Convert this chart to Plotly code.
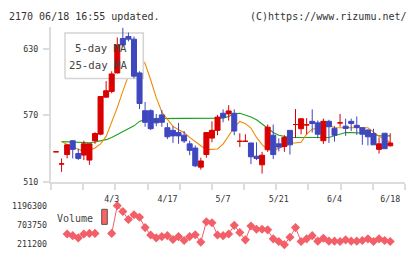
import plotly.graph_objects as go
import numpy as np

# ---------------- data ----------------
tick_labels = ["4/3", "4/17", "5/7", "5/21", "6/4", "6/18"]
tick_pos = [10, 20, 30, 40, 50, 60]

opens = [537, 526, 534.5, 547, 535.4, 534, 529.5, 547, 553, 586.5,
         591.7, 608.4, 639.6, 641.4, 639, 608.4, 574.2, 574.2, 566.7, 570.4,
         558.8, 556.4, 554.4, 552, 544.2, 540.4, 523.1, 534.5, 549.4, 556.4,
         571.9, 571.3, 571.9, 546.5, 546.5, 545, 533, 525.2, 538.9, 552,
         544.2, 541.8, 556.4, 561.7, 557.9, 561.4, 564.6, 563.2, 547, 564.6,
         558.2, 563.2, 560.2, 564.6, 561, 558.8, 556.7, 553.5, 539.2, 553.8,
         542.4]
highs = [537, 531, 543.3, 547.5, 539.8, 547, 544.2, 554.7, 587.5, 601,
         609.9, 640.5, 649.3, 645, 641.4, 610, 582.1, 575.4, 571.3, 574.8,
         563.2, 560.2, 563.2, 555.8, 547, 542.7, 531.6, 554.4, 564.6, 570.4,
         575.4, 579.2, 575.4, 553.8, 552.9, 545, 545.6, 536.9, 561.7, 561.7,
         549.2, 552, 556.4, 575.7, 567.5, 567.5, 575.4, 565.4, 567, 566,
         560.2, 571.3, 567, 567, 569, 558.8, 557.3, 557.9, 550, 553.8,
         553.8]
lows = [537, 518.8, 531, 531, 529.5, 529.5, 525.2, 544.2, 552, 586,
        590, 608, 631.8, 637, 603.5, 575.7, 559.7, 556.7, 560.2, 559.7,
        548.5, 545, 544.2, 545, 533.9, 523.1, 520.8, 531.6, 545.6, 552,
        563.7, 565.2, 552, 541.3, 546.2, 525.8, 529.5, 517.3, 536.9, 530.4,
        537.4, 536.9, 534.5, 549.4, 552.9, 552.9, 554.4, 549.2, 544.2, 545,
        546.2, 559.7, 551.4, 555.8, 552.3, 543.3, 542.7, 543.3, 535.4, 539.8,
        541.8]
closes = [537, 526, 543.3, 539.2, 531, 544.2, 544.2, 553.5, 587, 592.3,
          607.5, 633.8, 633.8, 639, 605.5, 580.7, 563.7, 557.9, 563.2, 563.7,
          550.6, 551.4, 551.4, 546.8, 538.3, 524.3, 528.7, 554.4, 556.4, 568.4,
          568.1, 574, 555.8, 546.5, 546.5, 532.5, 531, 533.9, 559.3, 534.5,
          541.3, 550, 543.3, 561.7, 566.9, 561.4, 562.6, 552.9, 564.6, 559.7,
          552, 563.2, 558.2, 562.6, 559, 552.9, 550.6, 543.3, 544.2, 539.8,
          545]

ma5 = [None, 546.2, 543.6, 541.8, 539.2, 537.4, 538.3, 540.4, 544.2, 550.9,
       564, 577, 592, 607, 620, 623, 617, 602, 586, 573,
       566, 560, 557, 554.5, 550, 546, 542.5, 539, 539, 539.5,
       544, 551, 559, 564.5, 562.5, 558.5, 550, 543.5, 539, 538.3,
       540, 542, 544.5, 545, 545.6, 553, 557.5, 558.5, 560, 560.5,
       559, 558.8, 558.8, 558.8, 558.8, 558.8, 558.8, 555, 551, 548.5,
       545.5]
ma25 = [None, 546.2, 546.0, 545.8, 545.6, 545.4, 545.2, 545.8, 547.0, 548.0,
        550, 552.5, 555, 557.5, 560.5, 564.5, 566.5, 567, 567, 567,
        567.5, 567.5, 567, 567, 567.5, 567, 567, 567, 567, 567,
        567.5, 569, 571.5, 571.9, 570.5, 568.5, 566, 562, 558.5, 554.5,
        552, 551, 550, 550, 550, 550, 550, 550, 550, 550,
        551.5, 553, 554.4, 554.4, 554.4, 554, 553.5, 552.5, 551.5, 551.4,
        551.4]

volume = [None, None, 473900, 432800, 375400, 473900, 490300, 490300, None, None,
          490300, 1196300, 1048500, 843300, 966400, 900800, 638100, 449300, 375400, 408200,
          432800, 334300, 408200, 309700, 408200, 457500, 268700, 785800, 761200, 449300,
          432800, 473900, 695500, 514900, 326100, 679100, 597000, 597000, 580600, 350800,
          285100, 203000, 391800, 638100, 285100, 350800, 432800, 293300, 367200, 293300,
          293300, 285100, 326100, 293300, 293300, 309700, 350800, 285100, 350800, 309700,
          285100]

price_ticks = [510, 570, 630]
vol_ticks = [211200, 703750, 1196300]

# ---------------- geometry / style ----------------
W, H = 420, 259
PX_L, PX_R = 51, 405
MAIN_TOP, MAIN_BOT = 24, 184
VOL_TOP, VOL_BOT = 208, 256
X0, X1 = -0.898, 62.657
Y0, Y1 = 510, 649.86
VSTEP = (vol_ticks[2] - vol_ticks[0]) / 40.0   # value per pixel
V0 = vol_ticks[0] - (VOL_BOT - 249) * VSTEP
V1 = vol_ticks[2] + (209 - VOL_TOP) * VSTEP

RED = "#d90000"
BLUE = "#3f47bf"
ORANGE = "#f08a00"
GREEN = "#1ea01e"
VOLC = "#f35f68"
GRAY = "#dcdcdc"
MONO = "DejaVu Sans Mono"

n = len(closes)
idx = list(range(n))
up = [c >= o for o, c in zip(opens, closes)]


def sel(arr, mask):
    return [a if m else None for a, m in zip(arr, mask)]


def px_x(px):
    return X0 + (px - PX_L) / (PX_R - PX_L) * (X1 - X0)


def px_y(py):
    return Y0 + (MAIN_BOT - py) / (MAIN_BOT - MAIN_TOP) * (Y1 - Y0)


def fx(px):
    return px / W


def fy(py):
    return 1 - py / H


fig = go.Figure()

# moving averages (base subplot)
fig.add_trace(go.Scatter(x=idx, y=ma25, mode="lines", line=dict(color=GREEN, width=1.1),
                         xaxis="x", yaxis="y", hoverinfo="skip"))
fig.add_trace(go.Scatter(x=idx, y=ma5, mode="lines", line=dict(color=ORANGE, width=1.1),
                         xaxis="x", yaxis="y", hoverinfo="skip"))

# legend box (white, hides MA lines, below candles)
bx0, bx1 = px_x(65), px_x(143.3)
by0, by1 = px_y(77.3), px_y(30)
fig.add_trace(go.Scatter(x=[bx0, bx1, bx1, bx0, bx0], y=[by0, by0, by1, by1, by0],
                         mode="lines", fill="toself", fillcolor="white",
                         line=dict(color="#d4d4d4", width=1.5),
                         xaxis="x", yaxis="y", hoverinfo="skip"))

# candles (overlay subplot so they draw above lines)
for mask, col in ((up, RED), ([not u for u in up], BLUE)):
    fig.add_trace(go.Candlestick(
        x=idx, open=sel(opens, mask), high=sel(highs, mask),
        low=sel(lows, mask), close=sel(closes, mask),
        increasing=dict(line=dict(color=col, width=1), fillcolor=col),
        decreasing=dict(line=dict(color=col, width=1), fillcolor=col),
        whiskerwidth=0, xaxis="x", yaxis="y3", hoverinfo="skip"))

# volume
fig.add_trace(go.Scatter(x=idx, y=volume, mode="lines+markers", connectgaps=False,
                         cliponaxis=False,
                         line=dict(color=VOLC, width=1),
                         marker=dict(symbol="diamond", size=7, color=VOLC),
                         xaxis="x2", yaxis="y2", hoverinfo="skip"))

xt = list(np.linspace(X0, X1, 12))

fig.update_layout(
    width=W, height=H, margin=dict(l=0, r=0, t=0, b=0),
    paper_bgcolor="white", plot_bgcolor="white", showlegend=False,
    boxgap=0.05, boxgroupgap=0.05,
    xaxis=dict(domain=[fx(PX_L), fx(PX_R)], range=[X0, X1], anchor="y",
               showline=True, linecolor=GRAY, linewidth=2,
               ticks="outside", ticklen=6, tickwidth=2, tickcolor=GRAY,
               tickmode="array", tickvals=xt, showticklabels=False,
               showgrid=False, zeroline=False, rangeslider=dict(visible=False)),
    yaxis=dict(domain=[fy(MAIN_BOT), fy(MAIN_TOP)], range=[Y0, Y1], anchor="x",
               showline=True, linecolor=GRAY, linewidth=2,
               ticks="outside", ticklen=6, tickwidth=2, tickcolor=GRAY,
               tickmode="array", tickvals=price_ticks,
               ticktext=[str(v) for v in price_ticks],
               tickfont=dict(family=MONO, size=8.3, color="#333"),
               ticklabelstandoff=3,
               showgrid=False, zeroline=False),
    yaxis3=dict(overlaying="y", range=[Y0, Y1], anchor="x", visible=False),
    xaxis2=dict(domain=[fx(PX_L), fx(PX_R)], range=[X0, X1], anchor="y2", side="top",
                tickmode="array", tickvals=tick_pos, ticktext=tick_labels, ticks="",
                tickfont=dict(family=MONO, size=8.3, color="#333"),
                showline=False, showgrid=False, zeroline=False),
    yaxis2=dict(domain=[fy(VOL_BOT), fy(VOL_TOP)], range=[V0, V1], anchor="x2",
                tickmode="array", tickvals=vol_ticks, ticktext=[str(v) for v in vol_ticks],
                tickfont=dict(family=MONO, size=8.3, color="#333"), ticks="",
                ticklabelstandoff=3,
                showline=False, showgrid=False, zeroline=False),
    annotations=[
        dict(text="2170 06/18 16:55 updated.", xref="paper", yref="paper",
             x=fx(7), y=fy(12.5), xanchor="left", yanchor="middle", showarrow=False,
             font=dict(family=MONO, size=10, color="#333")),
        dict(text="(C)https://www.rizumu.net/", xref="paper", yref="paper",
             x=fx(409), y=fy(12.5), xanchor="right", yanchor="middle", showarrow=False,
             font=dict(family=MONO, size=10, color="#333")),
        dict(text="5-day MA", xref="paper", yref="paper",
             x=fx(128.5), y=fy(46), xanchor="right", yanchor="middle", showarrow=False,
             font=dict(family=MONO, size=10.7, color="#444")),
        dict(text="25-day MA", xref="paper", yref="paper",
             x=fx(128.5), y=fy(63.3), xanchor="right", yanchor="middle", showarrow=False,
             font=dict(family=MONO, size=10.7, color="#444")),
        dict(text="Volume", xref="paper", yref="paper",
             x=fx(94.5), y=fy(222.5), xanchor="right", yanchor="middle", showarrow=False,
             font=dict(family=MONO, size=10, color="#444")),
    ],
    shapes=[
        dict(type="rect", xref="paper", yref="paper", layer="above",
             x0=fx(101.7), x1=fx(107.3), y0=fy(228.3), y1=fy(212.7),
             fillcolor="#ff6262", line=dict(color="#555", width=1)),
    ],
)

fig.write_html("out.html")
